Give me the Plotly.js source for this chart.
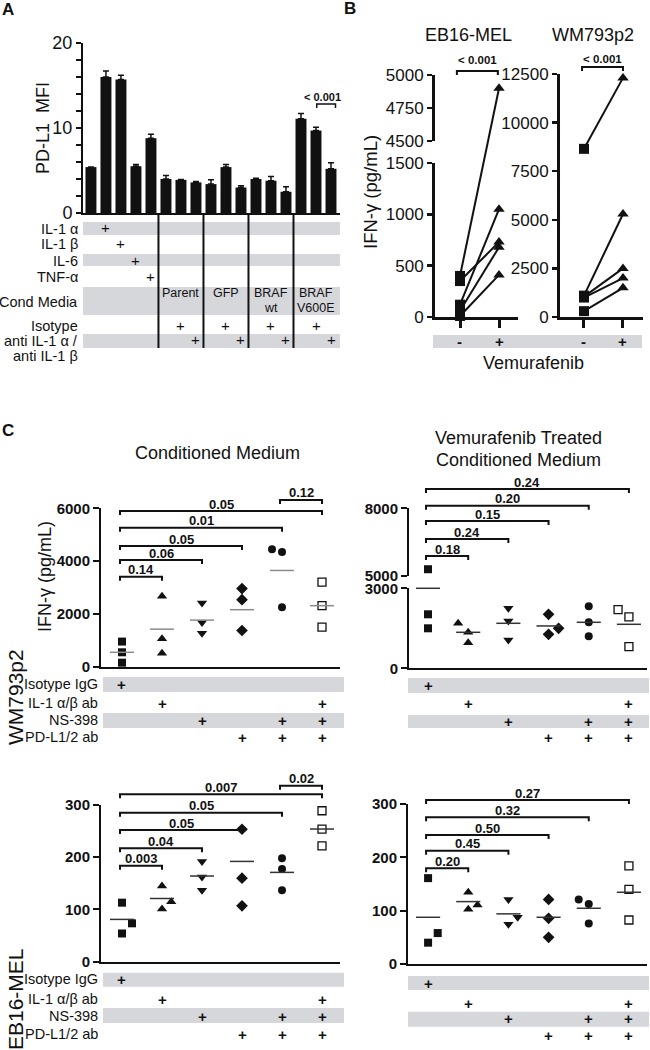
<!DOCTYPE html>
<html><head><meta charset="utf-8">
<script src="https://cdn.plot.ly/plotly-3.0.1.min.js"></script>
<style>html,body{margin:0;padding:0;background:#fff;overflow:hidden}</style>
</head><body>
<div id="chart" style="width:650px;height:1050px"></div>
<script>
/* ================= DATA ================= */
// Panel A : PD-L1 MFI bars
const aCats = ['none','IL-1α','IL-1β','IL-6','TNF-α',
  'Parent','Parent Iso','Parent anti','GFP','GFP Iso','GFP anti',
  'BRAF wt','BRAF wt Iso','BRAF wt anti','V600E','V600E Iso','V600E anti'];
const aValues = [5.4,16.0,15.7,5.5,8.8,4.0,3.9,3.6,3.4,5.4,3.0,4.0,3.8,2.5,11.1,9.7,5.2];
const aErrors = [0,0.7,0.5,0.2,0.45,0.4,0.05,0.1,0.5,0.3,0.2,0.1,0.5,0.6,0.6,0.4,0.7];
const aTickVals = [0,2,4,6,8,10,12,14,16,18,20];
const aTickText = ['0','','','','','10','','','','','20'];
const aRowLabels = ['IL-1 α','IL-1 β','IL-6','TNF-α','Cond Media','Isotype','anti IL-1 α /'];
const aRowLabelExtra = 'anti IL-1 β';
const aRowPlus = [[1],[2],[3],[4],[],[6,9,12,15],[7,10,13,16]];
const aMediaLabels = [['Parent'],['GFP'],['BRAF','wt'],['BRAF','V600E']];
const aMediaCenter = [6,9,12,15];
const aGroupEdges = [4.5,7.5,10.5,13.5];
const aPText = '< 0.001';
const aPPair = [15,16];

// Panel B : IFN-γ paired lines
const bLines = ['EB16-MEL','WM793p2'];
const bTreat = ['-','+'];
const ebBefore = [400,350,120,60,10];
const ebAfter  = [4900,730,1050,680,410];
const wmBefore = [8650,1100,1050,1000,300];
const wmAfter  = [12300,5300,2500,2000,1500];
const ebLowTicks = [0,500,1000,1500];
const ebHighTicks = [4500,4750,5000];
const wmTicks = [0,2500,5000,7500,10000,12500];
const bPText = ['< 0.001','< 0.001'];

// Panel C : scatter with means
const cRowLabels = ['Isotype IgG','IL-1 α/β ab','NS-398','PD-L1/2 ab'];
const cRowPlus = [[0],[1,5],[2,4,5],[3,4,5]];
const wmCM = [[952,546,152],[2667,1054,508],[2413,1676,1270],[2959,2540,1372],[4445,4343,2248],[3200,2311,1499]];
const wmCMMean = [546,1422,1765,2159,3645,2311];
const wmCMP = [[0,1,'0.14'],[0,2,'0.06'],[0,3,'0.05'],[0,4,'0.01'],[0,5,'0.05'],[4,5,'0.12']];
const wmVT = [[5300,2025,1500],[1688,1350,960],[2250,1773,1060],[2025,1500,1275],[2325,1725,1200],[2200,1925,815]];
const wmVTMean = [3000,1350,1688,1588,1725,1650];
const wmVTP = [[0,1,'0.18'],[0,2,'0.24'],[0,3,'0.15'],[0,4,'0.20'],[0,5,'0.24']];
const ebCM = [[113,73.5,54],[145,101,115],[191.6,162,137],[253.6,160,107],[198,177.6,137],[289,254,221.6]];
const ebCMMean = [81,121,164,192,171,254];
const ebCMP = [[0,1,'0.003'],[0,2,'0.04'],[0,3,'0.05'],[0,4,'0.05'],[0,5,'0.007'],[4,5,'0.02']];
const ebVT = [[161,58,40],[134.5,102.6,110.7],[121,74.5,87.6],[121,85.7,50],[121,112.6,76],[184,140,82.5]];
const ebVTMean = [87.6,117,94,87.6,104.5,134.5];
const ebVTP = [[0,1,'0.20'],[0,2,'0.45'],[0,3,'0.50'],[0,4,'0.32'],[0,5,'0.27']];
const cTicksWMCM = [0,2000,4000,6000];
const cTicksWMVTlow = [0,3000], cTicksWMVThigh = [5000,8000];
const cTicksEB = [0,100,200,300];

/* ================= POSITIONS / STYLE ================= */
const W = 650, H = 1050;
const PX = x => x / W, PY = y => 1 - y / H;
const FONT = 'Liberation Sans, Arial, Helvetica, sans-serif';
const INK = '#111';
const GRAY = '#d6d7db';
const SYM = ['square','triangle-up','triangle-down','diamond','circle','square-open'];
const SYMSIZE = [8,9,9,9,8,8];
// point jitter (category units)
const wmCMJit = [[0,0,0],[0,0,0],[0,0,0],[0,0,0],[-0.25,0,0],[0,0,0]];
const wmVTJit = [[0,0,0],[-0.25,0,0],[0,0,0],[0,0.25,0],[0,0,0],[-0.27,0,0]];
const ebCMJit = [[0,0.25,0],[0,0,0.23],[0,0,0],[0,0,0],[0,0,0],[0,0,0]];
const ebVTJit = [[0,0.24,0],[0,0,0.23],[0,0,0.23],[0,0,0],[-0.25,0,0],[0,0,0]];
// bracket levels (px)
const wmCMBrY = [576.7,560,546,527.7,511,500];
const wmVTBrY = [556,539,521,505.7,489];
const ebCMBrY = [865.7,848.3,830,812.7,794.3,785.7];
const ebVTBrY = [868.3,850.7,835,817.3,800];

const AX = {
  A:      {x:[83,340],  xr:[-0.53,16.6],  y:[213,43],     yr:[0,20]},
  EBlow:  {x:[435,518], xr:[-0.641,1.487], y:[317,163],   yr:[0,1500]},
  EBhigh: {y:[141,75],  yr:[4500,5000]},
  WM:     {x:[560,643], xr:[-0.615,1.513], y:[317,74],    yr:[0,12500]},
  TL:     {x:[101,340], xr:[-0.525,5.45], y:[666.7,508.3], yr:[0,6000]},
  TRlow:  {x:[409,647], xr:[-0.473,5.45], y:[668.3,588.3], yr:[0,3000]},
  TRhigh: {y:[576,508.3], yr:[5000,8000]},
  BL:     {x:[101,340], xr:[-0.525,5.45], y:[961.7,805],  yr:[0,300]},
  BR:     {x:[408,647], xr:[-0.5,5.45],   y:[964,804],    yr:[0,300]}
};
AX.EBext = {y:[317,60], yr:[0, 1500*(317-60)/(317-163)]};

const valToPx = (s,v) => s.y[0] + (v - s.yr[0])/(s.yr[1]-s.yr[0])*(s.y[1]-s.y[0]);
const pxToVal = (s,p) => s.yr[0] + (p - s.y[0])/(s.y[1]-s.y[0])*(s.yr[1]-s.yr[0]);

const shapes = [], annotations = [], traces = [];

function ann(o){
  annotations.push({
    xref: o.xref || 'paper', yref:'paper',
    x: o.xref ? o.x : PX(o.x), y: PY(o.y),
    text: o.text, showarrow:false,
    xanchor: o.xanchor || 'center', yanchor: o.yanchor || 'middle',
    textangle: o.angle || 0,
    font: {family:FONT, size:o.size||14, color:INK, weight: o.bold ? 'bold' : 'normal'}
  });
}
function rectPx(x0,x1,y0,y1,color){
  shapes.push({type:'rect', xref:'paper', yref:'paper', x0:PX(x0), x1:PX(x1), y0:PY(y1), y1:PY(y0),
    fillcolor:color, line:{width:0}, layer:'below'});
}
function bracket(xref, xa, xb, ypx, tick, w){
  shapes.push({type:'path', xref, yref:'paper',
    path:`M ${xa},${PY(ypx+tick)} L ${xa},${PY(ypx)} L ${xb},${PY(ypx)} L ${xb},${PY(ypx+tick)}`,
    line:{color:INK, width:w}});
}
function xAxis(s, anchor, extra){
  return Object.assign({domain:[PX(s.x[0]),PX(s.x[1])], range:s.xr, anchor, showgrid:false, zeroline:false,
    fixedrange:true, showline:true, linecolor:INK, linewidth:2, ticks:'', showticklabels:false}, extra||{});
}
function yAxis(s, anchor, extra){
  return Object.assign({domain:[PY(s.y[0]),PY(s.y[1])], range:s.yr, anchor, showgrid:false, zeroline:false,
    fixedrange:true, showline:true, linecolor:INK, linewidth:2, ticks:'outside', tickcolor:INK,
    ticklen:6, tickwidth:2}, extra||{});
}
function dummy(xa, ya, y){
  traces.push({x:[0], y:[y], xaxis:xa, yaxis:ya, mode:'markers', marker:{opacity:0}, hoverinfo:'skip', showlegend:false});
}

/* ================= PANEL A ================= */
traces.push({type:'bar', x:aCats.map((_,i)=>i), y:aValues, xaxis:'x', yaxis:'y', width:0.73,
  marker:{color:INK, line:{width:0}}, hoverinfo:'skip',
  error_y:{type:'data', symmetric:false, array:aErrors, arrayminus:aErrors.map(()=>0),
           color:INK, thickness:1.5, width:3}});
ann({x:8, y:10, text:'A', size:17, bold:true});
ann({x:43, y:128, text:'PD-L1  MFI', size:18, angle:-90});
bracket('x', aPPair[0]+0.05, aPPair[1]+0.3, 104, 4, 1.5);
ann({xref:'x', x:aPPair[0]+0.45, y:97, text:aPText, size:11, bold:true});
const aRowY = [228,243,260,276,301,325,340];
[[222,235],[254,266],[287,315],[334,348]].forEach(b=>rectPx(83,340,b[0],b[1],GRAY));
aRowLabels.forEach((t,i)=>{
  ann({x:80, y:aRowY[i]+1, text:t, size:14.5, xanchor:'right'});
  aRowPlus[i].forEach(k=>ann({xref:'x', x:k, y:aRowY[i], text:'+', size:15}));
});
ann({x:80, y:356, text:aRowLabelExtra, size:14.5, xanchor:'right'});
aGroupEdges.forEach(e=>shapes.push({type:'line', xref:'x', yref:'paper', x0:e, x1:e, y0:PY(213), y1:PY(348), line:{color:INK,width:2}}));
aMediaLabels.forEach((lines,i)=>{
  lines.forEach((t,j)=>ann({xref:'x', x:aMediaCenter[i], y:293+j*15, text:t, size:12.5}));
});

/* ================= PANEL B ================= */
ann({x:350, y:9, text:'B', size:17, bold:true});
ann({x:468, y:35, text:bLines[0], size:18});
ann({x:593, y:35, text:bLines[1], size:18});
ann({x:371, y:192, text:'IFN-γ (pg/mL)', size:18.5, angle:-90});
const ebConv = v => v > ebLowTicks[ebLowTicks.length-1] ? pxToVal(AX.EBext, valToPx(AX.EBhigh, v)) : v;
const pairMarker = {symbol:['square','triangle-up'], size:10, color:INK, opacity:1, line:{width:0}};
ebBefore.forEach((b,i)=>{
  traces.push({x:[0,1], y:[ebConv(b), ebConv(ebAfter[i])], xaxis:'x2', yaxis:'y10', mode:'lines+markers',
    line:{color:INK,width:2}, marker:pairMarker, cliponaxis:false, hoverinfo:'skip', showlegend:false});
});
wmBefore.forEach((b,i)=>{
  traces.push({x:[0,1], y:[b, wmAfter[i]], xaxis:'x3', yaxis:'y4', mode:'lines+markers',
    line:{color:INK,width:2}, marker:pairMarker, cliponaxis:false, hoverinfo:'skip', showlegend:false});
});
dummy('x2','y2',0); dummy('x2','y3',4500);
bracket('x2', -0.08, 0.97, 71, 4, 2);
ann({xref:'x2', x:0.45, y:60.5, text:bPText[0], size:11.5, bold:true});
bracket('x3', -0.05, 1.0, 67, 4, 2);
ann({xref:'x3', x:0.48, y:58.5, text:bPText[1], size:11.5, bold:true});
rectPx(433,642,335,348,GRAY);
bTreat.forEach((t,i)=>{
  ann({xref:'x2', x:i, y:341, text:t, size:15, bold:true});
  ann({xref:'x3', x:i, y:341, text:t, size:15, bold:true});
});
ann({x:533, y:363, text:'Vemurafenib', size:18});

/* ================= PANEL C ================= */
ann({x:8, y:430, text:'C', size:17, bold:true});
ann({x:217, y:453, text:'Conditioned Medium', size:18});
ann({x:518, y:438, text:'Vemurafenib Treated', size:18});
ann({x:518, y:460, text:'Conditioned Medium', size:18});
ann({x:45, y:577, text:'IFN-γ (pg/mL)', size:18, angle:-90});
ann({x:15, y:697, text:'WM793p2', size:21, angle:-90});
ann({x:15, y:999, text:'EB16-MEL', size:21, angle:-90});

function scatterPanel(data, jit, means, meanColor, xa, yaLow, sLow, yaHigh, sHigh){
  data.forEach((vals,c)=>{
    const lo = {x:[],y:[]}, hi = {x:[],y:[]};
    vals.forEach((v,k)=>{
      const tgt = (sHigh && v > sLow.yr[1]) ? hi : lo;
      tgt.x.push(c + jit[c][k]); tgt.y.push(v);
    });
    const mk = {symbol:SYM[c], size:SYMSIZE[c], color:INK, opacity:1, line:{color:INK, width: c===5?1.3:0}};
    traces.push({x:lo.x, y:lo.y, xaxis:xa, yaxis:yaLow, mode:'markers', marker:mk, cliponaxis:false, hoverinfo:'skip', showlegend:false});
    if (hi.x.length) traces.push({x:hi.x, y:hi.y, xaxis:xa, yaxis:yaHigh, mode:'markers', marker:mk, cliponaxis:false, hoverinfo:'skip', showlegend:false});
    const m = means[c];
    const s = (sHigh && m > sLow.yr[1]) ? sHigh : sLow;
    const yp = PY(valToPx(s, m));
    shapes.push({type:'line', xref:xa, yref:'paper', x0:c-0.3, x1:c+0.3, y0:yp, y1:yp, line:{color:meanColor, width:1.5}});
  });
}
function brackets(list, ys, xa){
  list.forEach((b,i)=>{
    bracket(xa, b[0]-0.05, b[1], ys[i], 4, 2);
    ann({xref:xa, x:(b[0]-0.05+b[1])/2, y:ys[i]-7, text:b[2], size:13, bold:true});
  });
}
scatterPanel(wmCM, wmCMJit, wmCMMean, '#8c8c8c', 'x4', 'y5', AX.TL);
brackets(wmCMP, wmCMBrY, 'x4');
scatterPanel(wmVT, wmVTJit, wmVTMean, '#333', 'x5', 'y6', AX.TRlow, 'y7', AX.TRhigh);
brackets(wmVTP, wmVTBrY, 'x5');
scatterPanel(ebCM, ebCMJit, ebCMMean, '#333', 'x6', 'y8', AX.BL);
brackets(ebCMP, ebCMBrY, 'x6');
scatterPanel(ebVT, ebVTJit, ebVTMean, '#333', 'x7', 'y9', AX.BR);
brackets(ebVTP, ebVTBrY, 'x7');
dummy('x5','y7',5000);

function cTable(rowY, bands, x0, x1, xa, withLabels){
  bands.forEach(b=>rectPx(x0,x1,b[0],b[1],GRAY));
  cRowLabels.forEach((t,i)=>{
    if (withLabels) ann({x:100, y:rowY[i], text:t, size:14.5, xanchor:'right'});
    cRowPlus[i].forEach(k=>ann({xref:xa, x:k, y:rowY[i], text:'+', size:15, bold:true}));
  });
}
cTable([684,703,720,737], [[677,692],[713,728]], 103, 344, 'x4', true);
cTable([685,703,721,737], [[678,693],[715,728]], 408, 649, 'x5', false);
cTable([979,999,1016,1034], [[972.7,986.7],[1008,1023]], 103, 344, 'x6', true);
cTable([983,1003,1018,1035], [[976,990],[1011.7,1026.7]], 408, 649, 'x7', false);

/* ================= LAYOUT ================= */
const tfA = {family:FONT, size:18, color:INK};
const tfB = {family:FONT, size:17, color:INK};
const tfC = {family:FONT, size:15, color:INK, weight:'bold'};
const layout = {
  width:W, height:H, margin:{l:0,r:0,t:0,b:0}, paper_bgcolor:'#fff', plot_bgcolor:'rgba(0,0,0,0)',
  showlegend:false, font:{family:FONT, color:INK},
  xaxis: xAxis(AX.A,'y'),
  yaxis: yAxis(AX.A,'x',{tickvals:aTickVals, ticktext:aTickText, ticklen:5, tickwidth:1.5, tickfont:tfA}),
  xaxis2: xAxis(AX.EBlow,'y2',{linewidth:3, ticks:'outside', tickvals:[0,1], ticklen:8, tickwidth:3, tickcolor:INK}),
  yaxis2: yAxis(AX.EBlow,'x2',{tickvals:ebLowTicks, ticktext:ebLowTicks.map(String), linewidth:3, ticklen:5, tickwidth:2.5, tickfont:tfB}),
  yaxis3: yAxis(AX.EBhigh,'x2',{tickvals:ebHighTicks, ticktext:ebHighTicks.map(String), linewidth:3, ticklen:5, tickwidth:2.5, tickfont:tfB}),
  yaxis10: {domain:[PY(AX.EBext.y[0]),PY(AX.EBext.y[1])], range:AX.EBext.yr, anchor:'x2', visible:false, fixedrange:true},
  xaxis3: xAxis(AX.WM,'y4',{linewidth:3, ticks:'outside', tickvals:[0,1], ticklen:8, tickwidth:3, tickcolor:INK}),
  yaxis4: yAxis(AX.WM,'x3',{tickvals:wmTicks, ticktext:wmTicks.map(String), linewidth:3, ticklen:5, tickwidth:2.5, tickfont:tfB}),
  xaxis4: xAxis(AX.TL,'y5'),
  yaxis5: yAxis(AX.TL,'x4',{tickvals:cTicksWMCM, ticktext:cTicksWMCM.map(String), tickfont:tfC}),
  xaxis5: xAxis(AX.TRlow,'y6'),
  yaxis6: yAxis(AX.TRlow,'x5',{tickvals:cTicksWMVTlow, ticktext:cTicksWMVTlow.map(String), tickfont:tfC}),
  yaxis7: yAxis(AX.TRhigh,'x5',{tickvals:cTicksWMVThigh, ticktext:cTicksWMVThigh.map(String), tickfont:tfC}),
  xaxis6: xAxis(AX.BL,'y8'),
  yaxis8: yAxis(AX.BL,'x6',{tickvals:cTicksEB, ticktext:cTicksEB.map(String), tickfont:tfC}),
  xaxis7: xAxis(AX.BR,'y9'),
  yaxis9: yAxis(AX.BR,'x7',{tickvals:cTicksEB, ticktext:cTicksEB.map(String), tickfont:tfC}),
  shapes, annotations
};
Plotly.newPlot('chart', traces, layout, {staticPlot:true, displayModeBar:false});
</script>
</body></html>
